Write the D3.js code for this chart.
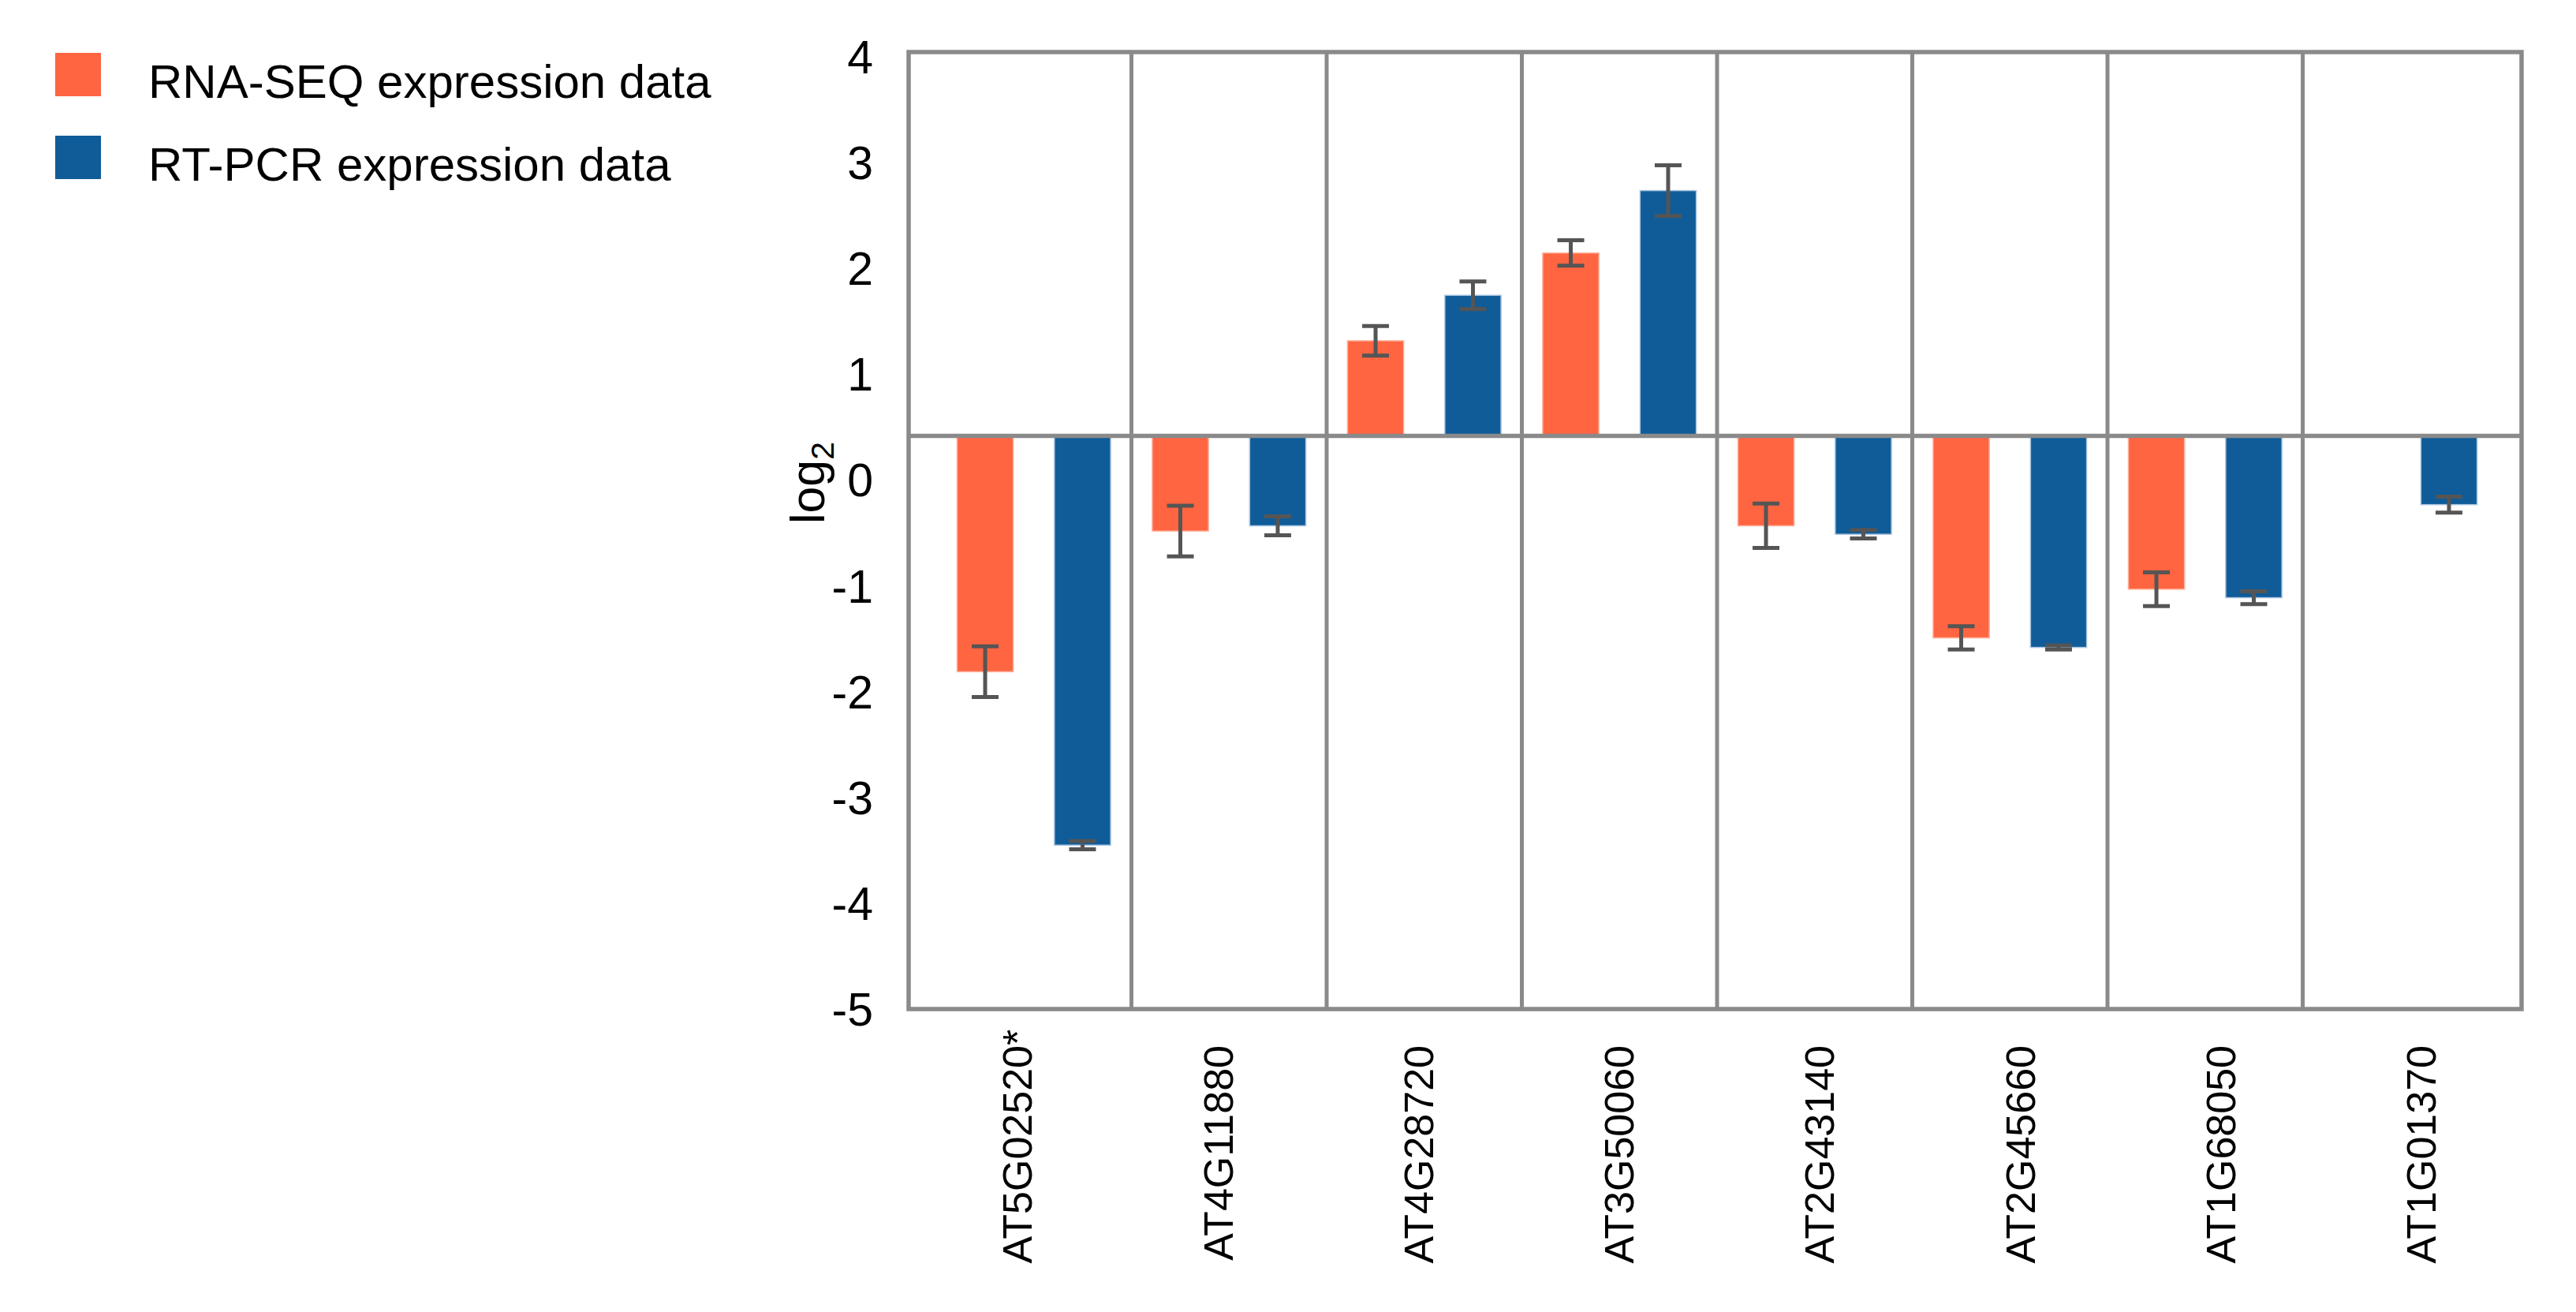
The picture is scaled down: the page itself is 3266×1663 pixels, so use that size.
<!DOCTYPE html>
<html>
<head>
<meta charset="utf-8">
<script src="https://cdn.jsdelivr.net/npm/d3@7.9.0/dist/d3.min.js"></script>
<style>
  html, body { margin: 0; padding: 0; background: #fff; }
  text { font-family: "Liberation Sans", Arial, Helvetica, sans-serif; fill: #000; }
</style>
</head>
<body>
<svg id="chart" width="3266" height="1663"></svg>
<script>
// values read against the printed axis labels
const genes = ['AT5G02520*', 'AT4G11880', 'AT4G28720', 'AT3G50060',
               'AT2G43140', 'AT2G45660', 'AT1G68050', 'AT1G01370'];
const rnaSeq    = [-1.81, -0.48, 1.32, 2.15, -0.43, -1.49, -1.03, null];
const rnaSeqErr = [0.24, 0.24, 0.14, 0.12, 0.21, 0.11, 0.16, null];
const rtPcr     = [-3.45, -0.43, 1.75, 2.74, -0.51, -1.58, -1.11, -0.23];
const rtPcrErr  = [0.04, 0.09, 0.13, 0.24, 0.04, 0.02, 0.06, 0.075];
const yTicks = [4, 3, 2, 1, 0, -1, -2, -3, -4, -5];
const baseline = 0.42;   // the horizontal line the bars hang from
const seriesNames = ['RNA-SEQ expression data', 'RT-PCR expression data'];
const seriesColors = ['#ff6541', '#0f5c99'];
const seriesEdges = ['#ffb39f', '#a9c4e0'];

const svg = d3.select('#chart');
svg.append('rect').attr('width', 3266).attr('height', 1663).attr('fill', '#fff');

const plotLeft = 1152, plotRight = 3197, plotTop = 66, plotBottom = 1279;
const gridColor = '#8a8a8a';

const y = d3.scaleLinear().domain([-5, 4.05]).range([plotBottom, plotTop]);
const x = d3.scaleBand().domain(genes).range([plotLeft + 35, plotRight - 30]);
const xLabel = d3.scaleBand().domain(genes).range([plotLeft + 11, plotRight]);
const xSub = d3.scaleBand().domain([0, 1]).range([0, x.bandwidth()])
  .paddingInner(0.423).paddingOuter(0.214);

// vertical separators between genes
svg.append('g').selectAll('line')
  .data(genes.slice(1))
  .join('line')
  .attr('x1', d => x(d)).attr('x2', d => x(d))
  .attr('y1', plotTop).attr('y2', plotBottom)
  .attr('stroke', gridColor).attr('stroke-width', 5);

// bars
const series = [
  { values: rnaSeq, errs: rnaSeqErr },
  { values: rtPcr, errs: rtPcrErr }
];
const bars = [];
series.forEach((s, si) => {
  genes.forEach((g, gi) => {
    if (s.values[gi] == null) return;
    bars.push({ gene: g, si, v: s.values[gi], e: s.errs[gi] });
  });
});

svg.append('g').selectAll('rect')
  .data(bars)
  .join('rect')
  .attr('x', d => x(d.gene) + xSub(d.si))
  .attr('width', xSub.bandwidth())
  .attr('y', d => Math.min(y(d.v), y(baseline)))
  .attr('height', d => Math.abs(y(d.v) - y(baseline)))
  .attr('fill', d => seriesColors[d.si])
  .attr('stroke', d => seriesEdges[d.si])
  .attr('stroke-width', 1.5);

// baseline
svg.append('line')
  .attr('x1', plotLeft).attr('x2', plotRight)
  .attr('y1', y(baseline)).attr('y2', y(baseline))
  .attr('stroke', gridColor).attr('stroke-width', 5.5);

// frame
svg.append('rect')
  .attr('x', plotLeft).attr('y', plotTop)
  .attr('width', plotRight - plotLeft).attr('height', plotBottom - plotTop)
  .attr('fill', 'none').attr('stroke', gridColor).attr('stroke-width', 5.5);

// error bars
const err = svg.append('g').attr('stroke', '#555').attr('stroke-width', 5);
bars.forEach(d => {
  const cx = x(d.gene) + xSub(d.si) + xSub.bandwidth() / 2;
  err.append('line').attr('x1', cx).attr('x2', cx)
    .attr('y1', y(d.v + d.e)).attr('y2', y(d.v - d.e));
  [d.v + d.e, d.v - d.e].forEach(v => {
    err.append('line').attr('x1', cx - 17).attr('x2', cx + 17)
      .attr('y1', y(v)).attr('y2', y(v));
  });
});

// y tick labels
svg.append('g').selectAll('text')
  .data(yTicks)
  .join('text')
  .attr('x', 1107).attr('y', d => y(d))
  .attr('dy', '0.35em')
  .attr('text-anchor', 'end')
  .attr('font-size', 59)
  .text(d => d);

// y axis title: log2
const yt = svg.append('text')
  .attr('transform', 'translate(1045,612) rotate(-90)')
  .attr('text-anchor', 'middle')
  .attr('font-size', 61);
yt.append('tspan').text('log');
yt.append('tspan').attr('font-size', 41).attr('dy', 12).text('2');

// gene labels, rotated
const lab = svg.append('g').selectAll('g')
  .data(genes)
  .join('g')
  .attr('transform', d => `translate(${xLabel(d) + xLabel.bandwidth() / 2},1325) rotate(-90)`);
lab.append('text')
  .attr('text-anchor', 'end')
  .attr('dy', '0.35em')
  .attr('font-size', 52)
  .text(d => d.replace('*', ''));
lab.filter(d => d.endsWith('*')).append('text')
  .attr('text-anchor', 'start')
  .attr('dy', '0.35em')
  .attr('font-size', 52)
  .text('*');

// legend
const leg = svg.append('g').selectAll('g')
  .data(seriesNames)
  .join('g')
  .attr('transform', (d, i) => `translate(70,${67 + i * 105})`);
leg.append('rect')
  .attr('width', 58).attr('height', 55)
  .attr('fill', (d, i) => seriesColors[i]);
leg.append('text')
  .attr('x', 118).attr('y', 57)
  .attr('font-size', 60)
  .text(d => d);
</script>
</body>
</html>
